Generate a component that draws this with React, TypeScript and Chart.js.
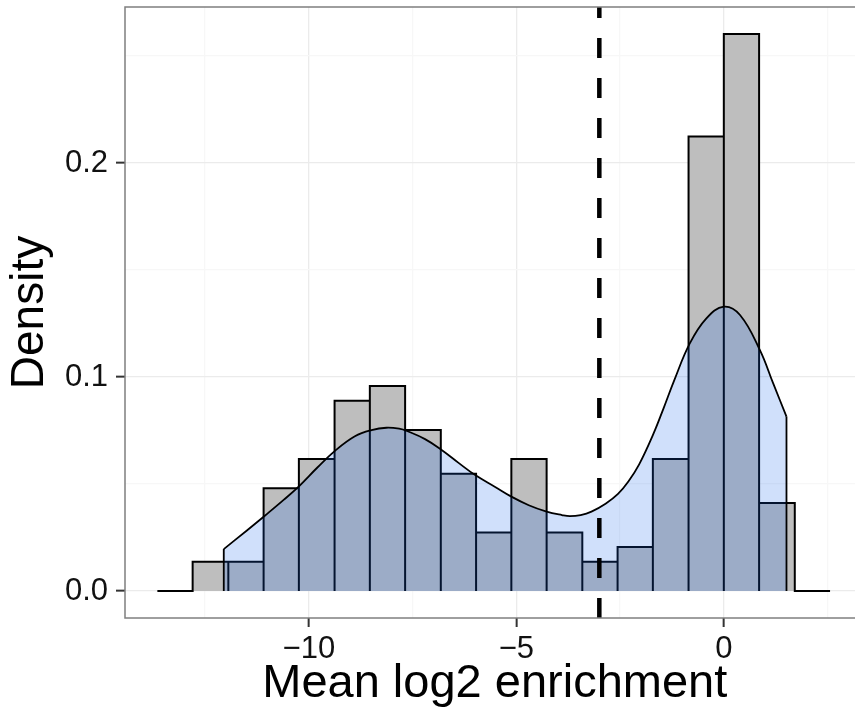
import React, { useEffect, useRef } from "react";
import { Chart, registerables } from "chart.js";

Chart.register(...registerables);

// Histogram bin edges (Mean log2 enrichment) and bar heights (density)
const binEdges = [
  -13.65, -12.8, -11.94, -11.09, -10.24, -9.38, -8.53, -7.68, -6.82, -5.97,
  -5.12, -4.27, -3.41, -2.56, -1.71, -0.85, 0.0, 0.85, 1.71, 2.56,
];
const binDensity = [
  0, 0.0137, 0.0137, 0.048, 0.0617, 0.0889, 0.0958, 0.0752, 0.0548, 0.0274,
  0.0617, 0.0274, 0.0137, 0.0206, 0.0617, 0.2124, 0.2603, 0.0411, 0,
];

// Kernel density estimate curve
const densityX = [
  -12.05, -11.5, -11.06, -10.6, -10.22, -9.8, -9.37, -8.89, -8.49, -8.13,
  -7.8, -7.65, -7.2, -6.8, -6.4, -6.0, -5.5, -5.12, -4.7, -4.27, -3.9, -3.71,
  -3.45, -3.19, -2.85, -2.55, -2.3, -2.04, -1.7, -1.45, -1.2, -0.82, -0.42,
  0.0, 0.39, 0.87, 1.19, 1.51,
];
const densityY = [
  0.0196, 0.0282, 0.0352, 0.0427, 0.0493, 0.0576, 0.0655, 0.0723, 0.0752, 0.0763,
  0.0758, 0.0749, 0.071, 0.0659, 0.06, 0.0543, 0.0485, 0.0441, 0.0401, 0.0371,
  0.0355, 0.035, 0.0355, 0.0371, 0.0408, 0.0454, 0.0512, 0.0592, 0.0733, 0.0855,
  0.0982, 0.1157, 0.1274, 0.1329, 0.129, 0.1126, 0.097, 0.0815,
];

const cutoff = -3;

const xTicks = [-12.5, -10, -7.5, -5, -2.5, 0, 2.5];
const xTickLabels = ["", "\u221210", "", "\u22125", "", "0", ""];
const yTicks = [0, 0.05, 0.1, 0.15, 0.2, 0.25];
const yTickLabels = ["0.0", "", "0.1", "", "0.2", ""];

const xLimits = [-14.43, 3.39];
const yLimits = [-0.0126, 0.2729];

const FONT = "'Liberation Sans', Arial, Helvetica, sans-serif";

const panelBorder = {
  id: "panelBorder",
  afterDatasetsDraw(chart: any) {
    const { ctx, chartArea } = chart;
    const { left, top, right, bottom } = chartArea;
    ctx.save();
    ctx.strokeStyle = "#7f7f7f";
    ctx.lineWidth = 1.5;
    ctx.strokeRect(left, top, right - left, bottom - top);
    ctx.restore();
  },
};

export default function App() {
  const canvasRef = useRef<HTMLCanvasElement | null>(null);

  useEffect(() => {
    if (!canvasRef.current) return;

    const histPoints: { x: number; y: number }[] = [];
    for (let i = 0; i < binDensity.length; i++) {
      const a = binEdges[i];
      const b = binEdges[i + 1];
      const h = binDensity[i];
      histPoints.push({ x: a, y: 0 }, { x: a, y: h }, { x: b, y: h }, { x: b, y: 0 });
    }

    const densPoints = densityX.map((x, i) => ({ x, y: densityY[i] }));
    const n = densityX.length;
    const startEdge = [
      { x: densityX[0], y: 0 },
      { x: densityX[0], y: densityY[0] },
    ];
    const endEdge = [
      { x: densityX[n - 1], y: densityY[n - 1] },
      { x: densityX[n - 1], y: 0 },
    ];
    const vline = [
      { x: cutoff, y: yLimits[0] },
      { x: cutoff, y: yLimits[1] },
    ];

    const gridColor = (labels: string[]) => (ctx: any) =>
      labels[ctx.index] ? "#ebebeb" : "#f7f7f7";
    const tickColor = (labels: string[]) => (ctx: any) =>
      labels[ctx.index] ? "#333333" : "rgba(0,0,0,0)";

    const chart = new Chart(canvasRef.current, {
      type: "line",
      data: {
        datasets: [
          {
            data: histPoints,
            borderColor: "#000000",
            borderWidth: 2,
            backgroundColor: "#bebebe",
            fill: "origin",
            pointRadius: 0,
            tension: 0,
            borderJoinStyle: "miter",
            order: 10,
          },
          {
            data: densPoints,
            borderColor: "#000000",
            borderWidth: 1.8,
            backgroundColor: "rgba(20,100,235,0.2)",
            fill: "origin",
            pointRadius: 0,
            tension: 0.4,
            order: 5,
          },
          {
            data: startEdge,
            borderColor: "#000000",
            borderWidth: 1.8,
            pointRadius: 0,
            fill: false,
            order: 4,
          },
          {
            data: endEdge,
            borderColor: "#000000",
            borderWidth: 1.8,
            pointRadius: 0,
            fill: false,
            order: 4,
          },
          {
            data: vline,
            borderColor: "#000000",
            borderWidth: 4.5,
            borderDash: [20, 20],
            borderCapStyle: "butt",
            pointRadius: 0,
            fill: false,
            order: 1,
          },
        ] as any,
      },
      options: {
        responsive: false,
        animation: false,
        devicePixelRatio: 1,
        layout: { padding: { top: 7, right: 15.5, left: 0, bottom: 0 } },
        plugins: {
          legend: { display: false },
          tooltip: { enabled: false },
        },
        scales: {
          x: {
            type: "linear",
            min: xLimits[0],
            max: xLimits[1],
            afterBuildTicks: (scale: any) => {
              scale.ticks = xTicks.map((v) => ({ value: v }));
            },
            afterFit: (scale: any) => {
              scale.height = 99;
              scale.paddingLeft = 0;
              scale.paddingRight = 0;
            },
            border: { display: false },
            grid: {
              color: gridColor(xTickLabels),
              lineWidth: 1.3,
              tickColor: tickColor(xTickLabels),
              tickLength: 9,
              tickWidth: 2,
            },
            ticks: {
              autoSkip: false,
              maxRotation: 0,
              padding: 4,
              color: "#111111",
              font: { family: FONT, size: 31 },
              callback: (_v: any, i: number) => xTickLabels[i],
            },
            title: {
              display: true,
              text: "Mean log2 enrichment",
              color: "#000000",
              font: { family: FONT, size: 47 },
              padding: { top: 0, bottom: 5 },
            },
          },
          y: {
            type: "linear",
            min: yLimits[0],
            max: yLimits[1],
            afterBuildTicks: (scale: any) => {
              scale.ticks = yTicks.map((v) => ({ value: v }));
            },
            afterFit: (scale: any) => {
              scale.width = 125;
              scale.paddingTop = 0;
              scale.paddingBottom = 0;
            },
            border: { display: false },
            grid: {
              color: gridColor(yTickLabels),
              lineWidth: 1.3,
              tickColor: tickColor(yTickLabels),
              tickLength: 9,
              tickWidth: 2,
            },
            ticks: {
              autoSkip: false,
              padding: 8,
              color: "#111111",
              font: { family: FONT, size: 31 },
              callback: (_v: any, i: number) => yTickLabels[i],
            },
            title: {
              display: true,
              text: "Density",
              color: "#000000",
              font: { family: FONT, size: 46 },
              padding: { top: 3, bottom: 0 },
            },
          },
        },
      } as any,
      plugins: [panelBorder],
    });

    return () => chart.destroy();
  }, []);

  return (
    <div
      style={{
        position: "fixed",
        left: 0,
        top: 0,
        width: 855,
        height: 717,
        overflow: "hidden",
        background: "#ffffff",
      }}
    >
      <canvas ref={canvasRef} width={880} height={717} style={{ display: "block" }} />
    </div>
  );
}
